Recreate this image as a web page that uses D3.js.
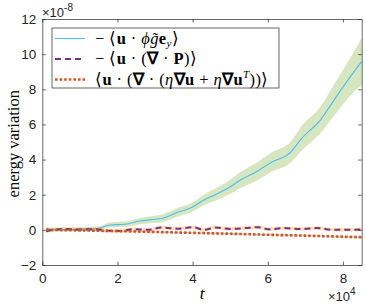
<!DOCTYPE html>
<html>
<head>
<meta charset="utf-8">
<script src="https://cdn.jsdelivr.net/npm/d3@7"></script>
<style>
  body { margin: 0; background: #fff; }
  svg { display: block; }
  .tick text { font-family: "Liberation Sans", Arial, sans-serif; font-size: 13.5px; fill: #262626; }
  .math { font-family: "Liberation Serif", "Times New Roman", serif; fill: #000; }
</style>
</head>
<body>
<div id="chart"></div>
<script>
// time in units of 1e4, energy in units of 1e-8
const gravT   = [0.1, 0.5, 1.0, 1.5, 1.8, 2.2, 2.6, 2.9, 3.2, 3.6, 4.0, 4.3, 4.6, 5.0, 5.2, 5.7, 6.1, 6.6, 6.9, 7.4, 7.8, 8.2, 8.5];
const gravVal = [0.06, 0.0, 0.05, 0.09, 0.28, 0.32, 0.5, 0.58, 0.66, 1.0, 1.3, 1.7, 2.0, 2.45, 2.74, 3.31, 3.85, 4.4, 5.2, 6.25, 7.5, 8.72, 9.57];
const gravLo  = [-0.04, -0.1, -0.05, -0.01, 0.14, 0.17, 0.32, 0.38, 0.44, 0.76, 1.05, 1.4, 1.65, 2.05, 2.3, 2.8, 3.3, 3.8, 4.5, 5.5, 6.6, 7.65, 8.25];
const gravHi  = [0.16, 0.1, 0.15, 0.19, 0.42, 0.47, 0.68, 0.78, 0.88, 1.24, 1.55, 2.0, 2.35, 2.85, 3.18, 3.82, 4.4, 5.0, 5.9, 7.0, 8.4, 9.8, 10.9];

const polyT   = [0.1, 0.3, 0.6, 1.0, 1.4, 1.8, 2.1, 2.4, 2.8, 3.2, 3.6, 4.0, 4.3, 4.6, 5.0, 5.4, 5.75, 6.05, 6.4, 6.9, 7.3, 7.75, 8.1, 8.5];
const polyVal = [-0.08, 0.0, 0.05, 0.02, 0.04, -0.05, -0.06, 0.04, 0.0, 0.13, 0.06, 0.15, 0.0, 0.13, 0.05, 0.1, 0.15, 0.03, 0.1, 0.05, 0.1, 0.0, 0.0, 0.02];
const polyBand = 0.1;

const viscT   = [0.1, 1, 2, 3, 4, 5, 6, 7, 8, 8.5];
const viscVal = [0.0, -0.03, -0.07, -0.12, -0.17, -0.22, -0.28, -0.33, -0.39, -0.42];
const viscBand = 0.04;

const xTicks = [0, 2, 4, 6, 8];
const yTicks = [-2, 0, 2, 4, 6, 8, 10, 12];

const W = 366, H = 305;
const margin = {top: 19, right: 4.3, bottom: 40, left: 42.3};

const svg = d3.select("#chart").append("svg")
    .attr("width", W)
    .attr("height", H);

const x = d3.scaleLinear().domain([0, 8.5]).range([margin.left, W - margin.right]);
const y = d3.scaleLinear().domain([-2, 12]).range([H - margin.bottom, margin.top]);

const zip = (ts, vs) => ts.map((t, i) => ({t: t, v: vs[i]}));

const line = d3.line().x(d => x(d.t)).y(d => y(d.v));
const area = d3.area().x(d => x(d.t)).y0(d => y(d.lo)).y1(d => y(d.hi));

const plot = svg.append("g");

// shaded bands
plot.append("path")
    .datum(gravT.map((t, i) => ({t: t, lo: gravLo[i], hi: gravHi[i]})))
    .attr("d", area.curve(d3.curveMonotoneX))
    .attr("fill", "#77AC30").attr("fill-opacity", 0.3);

plot.append("path")
    .datum(gravT.map((t, i) => ({t: t, v: gravVal[i]})))
    .attr("d", line.curve(d3.curveMonotoneX))
    .attr("fill", "none").attr("stroke", "#4DBEEE").attr("stroke-width", 1.1);

plot.append("path")
    .datum(polyT.map((t, i) => ({t: t, lo: polyVal[i] - polyBand, hi: polyVal[i] + polyBand})))
    .attr("d", area.curve(d3.curveMonotoneX))
    .attr("fill", "#EDB120").attr("fill-opacity", 0.35);

plot.append("path")
    .datum(zip(polyT, polyVal))
    .attr("d", line.curve(d3.curveMonotoneX))
    .attr("fill", "none").attr("stroke", "#7E2F8E").attr("stroke-width", 2)
    .attr("stroke-dasharray", "6,4");

plot.append("path")
    .datum(viscT.map((t, i) => ({t: t, lo: viscVal[i] - viscBand, hi: viscVal[i] + viscBand})))
    .attr("d", area.curve(d3.curveLinear))
    .attr("fill", "#0072BD").attr("fill-opacity", 0.3);

plot.append("path")
    .datum(zip(viscT, viscVal))
    .attr("d", line.curve(d3.curveLinear))
    .attr("fill", "none").attr("stroke", "#D95319").attr("stroke-width", 2.6)
    .attr("stroke-dasharray", "2.6,2");

// axes with inward ticks on all four sides
const axisColor = "#262626";
const styleAxis = g => {
    g.select(".domain").attr("stroke", axisColor).attr("stroke-width", 0.7);
    g.selectAll(".tick line").attr("stroke", axisColor).attr("stroke-width", 0.7);
};

svg.append("g")
    .attr("transform", `translate(0,${H - margin.bottom})`)
    .call(d3.axisBottom(x).tickValues(xTicks).tickSizeInner(-3.5).tickSizeOuter(0).tickPadding(8).tickFormat(d3.format("d")))
    .call(styleAxis);
svg.append("g")
    .attr("transform", `translate(0,${margin.top})`)
    .call(d3.axisTop(x).tickValues(xTicks).tickSizeInner(-3.5).tickSizeOuter(0).tickFormat(""))
    .call(styleAxis);
svg.append("g")
    .attr("transform", `translate(${margin.left},0)`)
    .call(d3.axisLeft(y).tickValues(yTicks).tickSizeInner(-3.5).tickSizeOuter(0).tickPadding(6).tickFormat(d3.format("d")))
    .call(styleAxis);
svg.append("g")
    .attr("transform", `translate(${W - margin.right},0)`)
    .call(d3.axisRight(y).tickValues(yTicks).tickSizeInner(-3.5).tickSizeOuter(0).tickFormat(""))
    .call(styleAxis);

// exponent labels
const expo = (px, py, base, sup) => {
    const t = svg.append("text")
        .attr("x", px).attr("y", py)
        .attr("font-family", "Liberation Sans, Arial, sans-serif")
        .attr("font-size", 13).attr("fill", axisColor);
    t.append("tspan").text(base);
    t.append("tspan").attr("dy", -6).attr("font-size", 10).text(sup);
};
expo(42, 17, "\u00d710", "-8");
expo(328, 301, "\u00d710", "4");

// axis titles
svg.append("text")
    .attr("class", "math")
    .attr("x", x(4.25)).attr("y", 299)
    .attr("text-anchor", "middle")
    .attr("font-size", 17).attr("font-style", "italic")
    .text("t");

svg.append("text")
    .attr("class", "math")
    .attr("transform", `translate(19,${y(4.9)}) rotate(-90)`)
    .attr("text-anchor", "middle")
    .attr("font-size", 16.5)
    .text("energy variation");

// legend
const legend = svg.append("g").attr("transform", "translate(52,28)");
legend.append("rect")
    .attr("width", 227).attr("height", 60)
    .attr("fill", "#fff").attr("stroke", axisColor).attr("stroke-width", 0.7);

const legendRows = [
    {stroke: "#4DBEEE", width: 1.1, dash: null},
    {stroke: "#7E2F8E", width: 2, dash: "6,4"},
    {stroke: "#D95319", width: 2.6, dash: "2.6,2"}
];
const rowY = [10.5, 31, 51.5];

legendRows.forEach((r, i) => {
    legend.append("line")
        .attr("x1", 3).attr("x2", 33)
        .attr("y1", rowY[i]).attr("y2", rowY[i])
        .attr("stroke", r.stroke).attr("stroke-width", r.width)
        .attr("stroke-dasharray", r.dash);
});

// each label: list of [text, style]
const labels = [
    [["\u2212 \u27e8", ""], ["u", "b"], [" \u00b7 ", ""], ["\u03d5", "i"], ["g\u0303", "i"], ["e", "b"], ["y", "sub"], ["\u27e9", "rsub"]],
    [["\u2212 \u27e8", ""], ["u", "b"], [" \u00b7 (", ""], ["\u2207", "b"], [" \u00b7 ", ""], ["P", "b"], [")\u27e9", ""]],
    [["\u27e8", ""], ["u", "b"], [" \u00b7 (", ""], ["\u2207", "b"], [" \u00b7 (", ""], ["\u03b7", "i"], ["\u2207u", "b"], [" + ", ""], ["\u03b7", "i"], ["\u2207u", "b"], ["T", "sup"], ["))\u27e9", "rsup"]]
];

labels.forEach((parts, i) => {
    const t = legend.append("text")
        .attr("class", "math")
        .attr("x", 43).attr("y", rowY[i] + 5)
        .attr("font-size", 16.5)
        .attr("letter-spacing", 0.4);
    parts.forEach(([s, st]) => {
        const sp = t.append("tspan").text(s);
        if (st === "b") sp.attr("font-weight", "bold");
        if (st === "i") sp.attr("font-style", "italic");
        if (st === "sub") sp.attr("font-style", "italic").attr("font-size", 11).attr("dy", 3.5);
        if (st === "rsub") sp.attr("dy", -3.5);
        if (st === "sup") sp.attr("font-style", "italic").attr("font-size", 11).attr("dy", -7);
        if (st === "rsup") sp.attr("dy", 7);
    });
});
</script>
</body>
</html>
